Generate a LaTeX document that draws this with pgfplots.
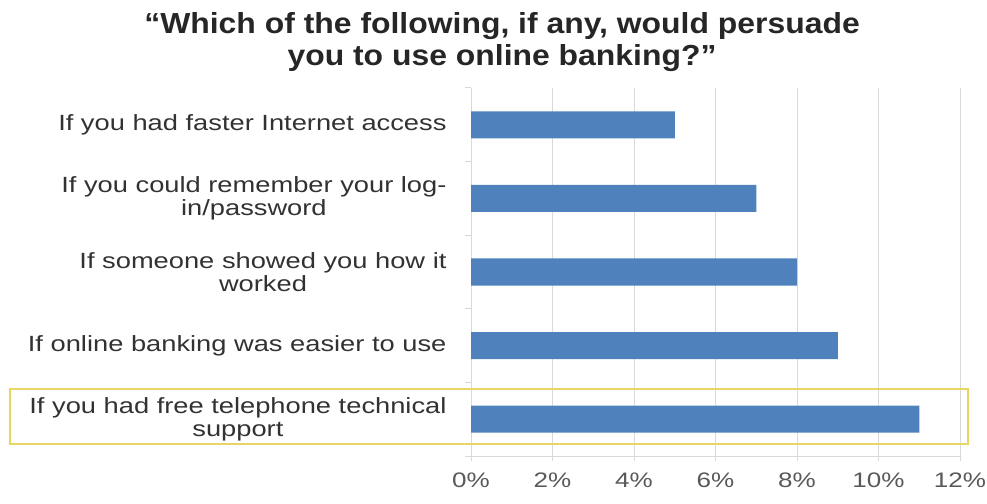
\documentclass[border=0pt]{standalone}
\usepackage{pgfplots}
\pgfplotsset{compat=1.18}
\usepackage{fontspec}
\setmainfont[FakeStretch=1.24]{Liberation Sans}
\newfontfamily\titlefont[FakeStretch=1.1]{Liberation Sans}
\definecolor{barblue}{RGB}{79,129,189}
\definecolor{gridgray}{RGB}{217,217,217}
\definecolor{labelgray}{RGB}{50,50,50}
\definecolor{tickgray}{RGB}{89,89,89}
\definecolor{boxyellow}{RGB}{232,214,100}
\begin{document}
\begin{tikzpicture}[x=1pt,y=1pt]
\useasboundingbox (0,0) rectangle (987,503);
\node[align=center, font=\titlefont\fontsize{29}{32}\selectfont\bfseries, text=black!85] at (502,461) {“Which of the following, if any, would persuade\\you to use online banking?”};
\begin{axis}[
  at={(471pt,47pt)}, anchor=south west,
  scale only axis, width=489pt, height=368pt,
  xmin=0, xmax=12, ymin=0.5, ymax=5.5,
  axis x line*=bottom, axis y line*=left,
  axis line style={draw=gridgray, line width=1pt},
  xtick={0,2,4,6,8,10,12},
  xticklabels={0\%,2\%,4\%,6\%,8\%,10\%,12\%},
  xmajorgrids, grid style={draw=gridgray, line width=1pt},
  x tick style={draw=gridgray, line width=1pt},
  tick align=outside, major tick length=5pt,
  xticklabel style={font=\fontsize{21}{24}\selectfont, text=tickgray, yshift=-8pt},
  ytick={1,2,3,4,5},
  yticklabels={{If you had free telephone technical\\support},{If online banking was easier to use},{If someone showed you how it\\worked},{If you could remember your log-\\in/password},{If you had faster Internet access}},
  yticklabel style={align=center, font=\fontsize{22}{23}\selectfont, text=labelgray, xshift=-16pt},
  y tick style={draw=none},
  extra y ticks={0.5,1.5,2.5,3.5,4.5,5.5},
  extra y tick labels={},
  extra y tick style={y tick style={draw=gridgray, line width=1pt}, major tick length=6pt, grid=none},
  clip=false,
]
\addplot[xbar, bar width=27pt, fill=barblue, draw=none] coordinates {(11,1) (9,2) (8,3) (7,4) (5,5)};
\draw[boxyellow, line width=2pt] (axis cs:-11.31,0.667) rectangle (axis cs:12.2,1.414);
\end{axis}
\end{tikzpicture}
\end{document}
